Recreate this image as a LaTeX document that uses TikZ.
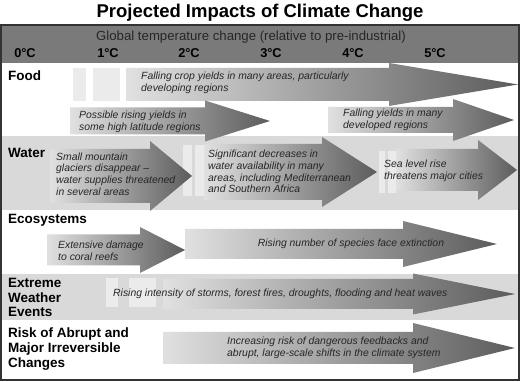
\documentclass[tikz,border=0pt]{standalone}
\usepackage{fontspec}
\setmainfont{Liberation Sans}

\tikzset{
	rowlabel/.style={anchor=west, inner sep=0pt, align=left, font=\fontsize{13.5}{14.8}\selectfont\bfseries},
	impacttext/.style={anchor=west, inner sep=0pt, align=left, font=\fontsize{10.4}{11.7}\selectfont\itshape, text=black!85},
	impact/.style={left color=black!12, right color=black!64},
	lightbar/.style={fill=black!8},
}

\begin{document}
\begin{tikzpicture}[x=1pt,y=-1pt]
	
	% ---- Adjustable colors ----
	\def\headColor{black!52}
	\def\bandColor{black!15}
	\def\frameColor{black!80}
	
	\useasboundingbox (0,0) rectangle (520,382);
	
	% ---- Title ----
	\node[font=\fontsize{18.5}{21}\selectfont\bfseries] (title) at (260,13) {Projected Impacts of Climate Change};
	
	% ---- Header and row bands ----
	\fill[\headColor] (1,25) rectangle (519,63);
	\foreach \ytop/\ybot/\col in {
		63/136/white,
		136/210/\bandColor,
		210/274/white,
		274/320/\bandColor,
		320/379/white}
	\fill[fill=\col] (1,\ytop) rectangle (519,\ybot);
	
	\node[font=\fontsize{13.2}{15}\selectfont, text=black!85] (axis) at (251,37) {Global temperature change (relative to pre-industrial)};
	\foreach \t/\xpos in {0/25, 1/108, 2/189, 3/271, 4/353, 5/435}
	\node[font=\fontsize{12.8}{14}\selectfont\bfseries] (deg\t) at (\xpos,53) {\t°C};
	
	% ---- Light bars ----
	\foreach \xa/\ya/\xb/\yb in {
		73/68/86/101, 93/68/120/101,
		183/145/192/196, 195/145/204/196,
		379/151/385/193, 388/151/396/193,
		106/278/118/307, 129/278/156/307}
	\fill[lightbar] (\xa,\ya) rectangle (\xb,\yb);
	
	% ---- Impact arrows: left / head start / tip / middle / body half / head half ----
	\foreach \xl/\xh/\xt/\yc/\bh/\hh in {
		126/389/518/84.5/16.5/21.5,
		70/205/270/121/13.5/20.5,
		328/453/514/120/13/21,
		50/150/192/176/27/35,
		204/322/377/172/28/35,
		396/478/517/170/21/30,
		47/140/185/250/15.5/23,
		185/403/497/244/15/23,
		163/413/515/294/15/20.5,
		163/413/515/348/16/25}
	\shade[impact] (\xl,{\yc-\bh}) -- (\xh,{\yc-\bh}) -- (\xh,{\yc-\hh}) -- (\xt,\yc)
		-- (\xh,{\yc+\hh}) -- (\xh,{\yc+\bh}) -- (\xl,{\yc+\bh}) -- cycle;
	
	% ---- Row labels ----
	\node[rowlabel] (food) at (8,76) {Food};
	\node[rowlabel] (water) at (8,153) {Water};
	\node[rowlabel] (eco) at (8,220) {Ecosystems};
	\node[rowlabel] (weather) at (8,297.5) {Extreme\\Weather\\Events};
	\node[rowlabel] (abrupt) at (8,349) {Risk of Abrupt and\\Major Irreversible\\Changes};
	
	% ---- Impact texts ----
	\node[impacttext] (cropfall) at (141,83) {Falling crop yields in many areas, particularly\\developing regions};
	\node[impacttext] (croprise) at (79,121.5) {Possible rising yields in\\some high latitude regions};
	\node[impacttext] (cropdev) at (343,120) {Falling yields in many\\developed regions};
	\node[impacttext] (glaciers) at (56,174) {Small mountain\\glaciers disappear --\\water supplies threatened\\in several areas};
	\node[impacttext] (scarcity) at (208,171.5) {Significant decreases in\\water availability in many\\areas, including Mediterranean\\and Southern Africa};
	\node[impacttext] (sealevel) at (384,170.5) {Sea level rise\\threatens major cities};
	\node[impacttext] (coral) at (58,251) {Extensive damage\\to coral reefs};
	\node[impacttext, anchor=center] (species) at (351,244) {Rising number of species face extinction};
	\node[impacttext] (storms) at (113,294) {Rising intensity of storms, forest fires, droughts, flooding and heat waves};
	\node[impacttext] (feedback) at (227,347.5) {Increasing risk of dangerous feedbacks and\\abrupt, large-scale shifts in the climate system};
	
	% ---- Frame ----
	\draw[\frameColor, line width=2pt] (1,25) rectangle (519,380);
	
\end{tikzpicture}
\end{document}
